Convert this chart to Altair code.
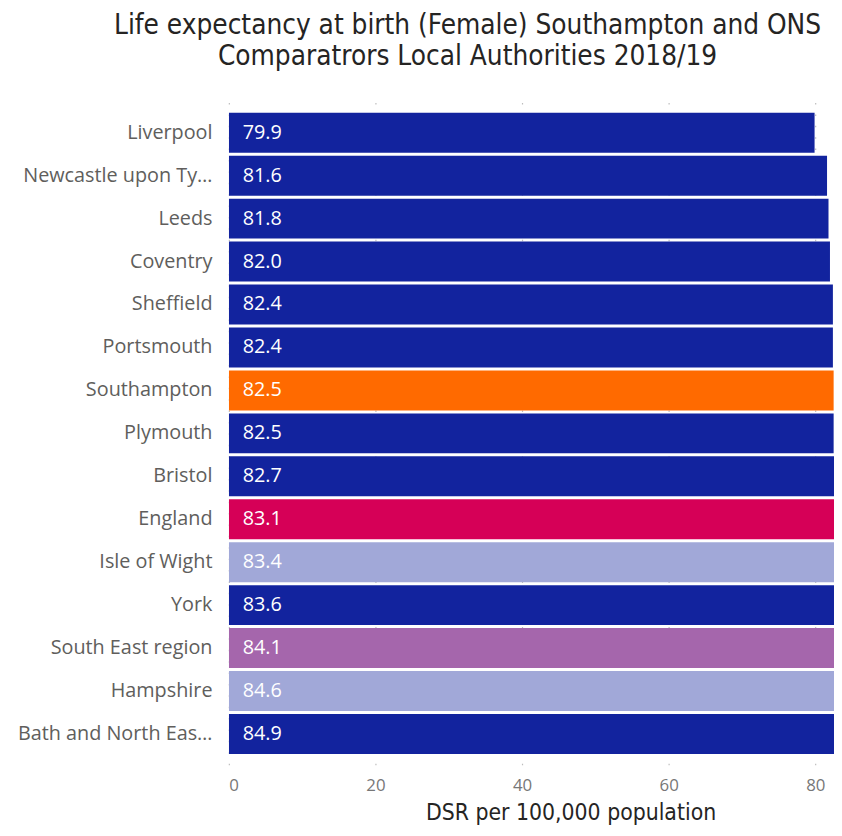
import altair as alt
import pandas as pd

areas = ["Liverpool", "Newcastle upon Tyne", "Leeds", "Coventry", "Sheffield",
         "Portsmouth", "Southampton", "Plymouth", "Bristol", "England",
         "Isle of Wight", "York", "South East region", "Hampshire",
         "Bath and North East Somerset"]
values = [79.9, 81.6, 81.8, 82.0, 82.4, 82.4, 82.5, 82.5, 82.7, 83.1,
          83.4, 83.6, 84.1, 84.6, 84.9]
groups = ["Comparator", "Comparator", "Comparator", "Comparator", "Comparator",
          "Comparator", "Southampton", "Comparator", "Comparator", "England",
          "Neighbour", "Comparator", "Region", "Neighbour", "Comparator"]
group_names = ["Comparator", "Southampton", "England", "Region", "Neighbour"]
group_colors = ["#12239E", "#FF6A00", "#D60057", "#A566AC", "#A1A8D8"]
tick_values = [0, 20, 40, 60, 80]

df = pd.DataFrame({"area": areas, "value": values, "group": groups})

title_font = "DejaVu Sans Condensed"
body_font = "Open Sans"

y_enc = alt.Y(
    "area:N", sort=areas,
    scale=alt.Scale(paddingInner=0.07, paddingOuter=0.25),
    axis=alt.Axis(title=None, ticks=False, domain=False, labelPadding=17,
                  labelLimit=197, labelFontSize=20, labelColor="#605E5C",
                  labelFont=body_font),
)

bars = alt.Chart(df).mark_bar(clip=True).encode(
    y=y_enc,
    x=alt.X(
        "value:Q",
        scale=alt.Scale(domain=[0, 82.55], nice=False, zero=True),
        axis=alt.Axis(values=tick_values, title="DSR per 100,000 population",
                      grid=True, gridDash=[1.5, 10], gridColor="#BDBDBD",
                      gridWidth=1.2, ticks=False, domain=False,
                      labelFontSize=17, labelColor="#777777", labelFont=body_font,
                      labelPadding=13, titleFont=title_font, titleFontSize=23,
                      titleFontWeight="normal", titleColor="#252423",
                      titleX=345, titleY=37, titleBaseline="top"),
    ),
    color=alt.Color("group:N", scale=alt.Scale(domain=group_names, range=group_colors),
                    legend=None),
)

labels = alt.Chart(df).mark_text(
    align="left", baseline="middle", dx=14, color="white",
    fontSize=20, font=body_font,
).encode(
    y=alt.Y("area:N", sort=areas),
    x=alt.value(0),
    text=alt.Text("value:Q", format=".1f"),
)

chart = alt.layer(bars, labels).properties(
    width=834,
    height=820,
    autosize=alt.AutoSizeParams(type="fit", contains="padding"),
    padding={"left": 9, "top": 0, "right": 0, "bottom": 0},
    title=alt.TitleParams(
        text=["Life expectancy at birth (Female) Southampton and ONS",
              "Comparatrors Local Authorities 2018/19"],
        font=title_font, fontSize=28, fontWeight="normal", color="#252423",
        anchor="start", align="center", dx=241, offset=31, lineHeight=32,
        frame="group",
    ),
).configure_view(stroke=None)

chart.save("out.html", embed_options={"renderer": "svg", "actions": False})
